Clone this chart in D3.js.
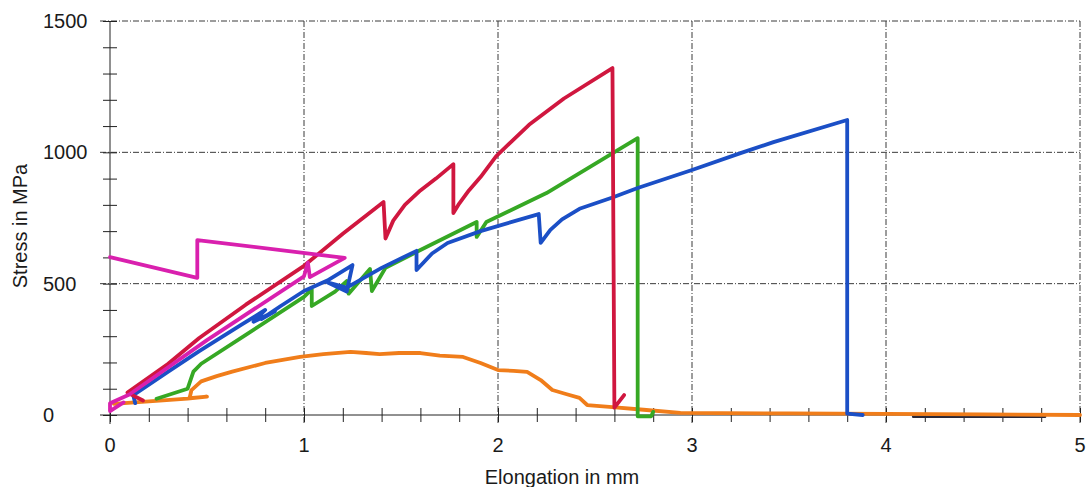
<!DOCTYPE html>
<html>
<head>
<meta charset="utf-8">
<script src="https://cdn.jsdelivr.net/npm/d3@7"></script>
<style>
  html, body { margin: 0; padding: 0; background: #fff; }
  svg { display: block; font-family: "Liberation Sans", Arial, sans-serif; }
</style>
</head>
<body>
<svg id="chart" width="1086" height="487"></svg>
<script>
// values (elongation in mm, stress in MPa)
const redX = [0.17, 0.09, 0.30, 0.46, 0.70, 1.00, 1.20, 1.41, 1.42, 1.46, 1.52, 1.60, 1.68, 1.77, 1.77, 1.80, 1.85, 1.91, 1.99, 2.16, 2.34, 2.59, 2.60, 2.65];
const redY = [55, 85, 195, 293, 420, 568, 690, 811, 672, 740, 800, 855, 900, 955, 769, 805, 855, 906, 985, 1105, 1205, 1321, 28, 76];

const magentaX = [0.00, 0.45, 0.45, 1.21, 1.03, 1.02, 1.00, 0.50, 0.10, 0.00, 0.00, 0.07];
const magentaY = [601, 522, 666, 598, 525, 580, 528, 285, 78, 45, 15, 48];

const blueX = [0.13, 0.12, 0.30, 0.46, 0.68, 0.80, 0.74, 0.85, 0.78, 0.88, 1.00, 1.12, 1.25, 1.22, 1.12, 1.22, 1.40, 1.58, 1.58, 1.66, 1.74, 1.91, 2.21, 2.22, 2.27, 2.33, 2.42, 2.59, 2.72, 3.00, 3.25, 3.42, 3.80, 3.80, 3.88];
const blueY = [45, 75, 165, 243, 345, 400, 355, 395, 365, 415, 472, 512, 571, 470, 505, 485, 560, 625, 552, 615, 655, 700, 765, 655, 705, 745, 785, 828, 864, 933, 997, 1039, 1123, 5, 0];

const greenX = [0.24, 0.40, 0.43, 0.47, 0.70, 1.00, 1.04, 1.04, 1.16, 1.22, 1.23, 1.34, 1.35, 1.42, 1.60, 1.89, 1.89, 1.94, 2.25, 2.72, 2.72, 2.79, 2.80];
const greenY = [62, 100, 165, 195, 305, 450, 478, 415, 470, 510, 462, 556, 472, 560, 628, 735, 678, 735, 845, 1054, -5, -5, 12];

const orangeX = [0.02, 0.40, 0.50, 0.41, 0.42, 0.47, 0.55, 0.63, 0.80, 0.98, 1.10, 1.24, 1.32, 1.39, 1.49, 1.60, 1.70, 1.82, 1.91, 2.00, 2.08, 2.15, 2.22, 2.28, 2.35, 2.42, 2.46, 2.59, 2.75, 2.94, 3.50, 4.00, 4.50, 5.00];
const orangeY = [42, 62, 70, 64, 95, 128, 148, 165, 198, 221, 232, 240, 236, 232, 236, 236, 226, 221, 198, 171, 168, 164, 133, 95, 80, 65, 38, 30, 20, 8, 6, 4, 2, 0];

const tailX = [4.14, 4.82];
const tailY = [-7, -7];

const xTicks = [0, 1, 2, 3, 4, 5];
const yTicks = [0, 500, 1000, 1500];

const series = [
    { x: tailX, y: tailY, color: "#2b2838", width: 2.5 },
    { x: orangeX, y: orangeY, color: "#f07d1a", width: 3.8 },
    { x: greenX, y: greenY, color: "#36a824", width: 3.8 },
    { x: blueX, y: blueY, color: "#1b4fc6", width: 3.8 },
    { x: redX, y: redY, color: "#d0173f", width: 3.8 },
    { x: magentaX, y: magentaY, color: "#d920ae", width: 3.8 }
];

const svg = d3.select("#chart");

/* Scale */
const xScale = d3.scaleLinear().domain([0, 5]).range([110, 1080]);
const yScale = d3.scaleLinear().domain([0, 1500]).range([415, 21]);

/* Grid */
const grid = svg.append("g").attr("class", "grid")
    .attr("stroke", "#3a3a3a")
    .attr("stroke-width", 1)
    .attr("stroke-dasharray", "6,2,1,2");

grid.selectAll(".vgrid")
    .data(xTicks.slice(1)).enter()
    .append("line")
    .attr("x1", d => xScale(d)).attr("x2", d => xScale(d))
    .attr("y1", yScale(1500)).attr("y2", yScale(0) + 9);

grid.selectAll(".hgrid")
    .data(yTicks.slice(1)).enter()
    .append("line")
    .attr("x1", xScale(0) - 10).attr("x2", xScale(5))
    .attr("y1", d => yScale(d)).attr("y2", d => yScale(d));

/* Axes */
const xAxis = d3.axisBottom(xScale).ticks(25).tickSize(7).tickFormat("");
const yAxis = d3.axisLeft(yScale).ticks(15).tickSize(7).tickFormat("");

const gx = svg.append("g")
    .attr("transform", `translate(0, ${yScale(0)})`)
    .call(xAxis);
gx.selectAll(".tick line").attr("y1", -7).attr("stroke", "#222");
gx.select(".domain").attr("stroke", "#222").attr("d", `M${xScale(0) - 10},0H${xScale(5)}`);

const gy = svg.append("g")
    .attr("transform", `translate(${xScale(0)}, 0)`)
    .call(yAxis);
gy.selectAll(".tick line").attr("x1", 7).attr("stroke", "#222");
gy.select(".domain").attr("stroke", "#222").attr("d", `M0,${yScale(1500)}V${yScale(0) + 9}`);

svg.selectAll(".xlab")
    .data(xTicks).enter()
    .append("text")
    .attr("x", d => xScale(d))
    .attr("y", 452)
    .attr("text-anchor", "middle")
    .attr("font-size", "20px")
    .attr("fill", "#1a1a1a")
    .text(d => d);

svg.selectAll(".ylab")
    .data(yTicks).enter()
    .append("text")
    .attr("x", 43)
    .attr("y", d => yScale(d) + 7)
    .attr("font-size", "20px")
    .attr("fill", "#1a1a1a")
    .text(d => d);

svg.append("text")
    .attr("x", 562)
    .attr("y", 484)
    .attr("text-anchor", "middle")
    .attr("font-size", "20px")
    .attr("fill", "#1a1a1a")
    .text("Elongation in mm");

svg.append("text")
    .attr("transform", "translate(27, 226) rotate(-90)")
    .attr("text-anchor", "middle")
    .attr("font-size", "20px")
    .attr("fill", "#1a1a1a")
    .text("Stress in MPa");

/* Lines */
const line = d3.line()
    .x(d => xScale(d[0]))
    .y(d => yScale(d[1]));

svg.append("g").attr("class", "lines")
    .selectAll("path")
    .data(series).enter()
    .append("path")
    .attr("d", s => line(s.x.map((v, i) => [v, s.y[i]])))
    .attr("fill", "none")
    .attr("stroke", s => s.color)
    .attr("stroke-width", s => s.width)
    .attr("stroke-linejoin", "round")
    .attr("stroke-linecap", "round");
</script>
</body>
</html>
